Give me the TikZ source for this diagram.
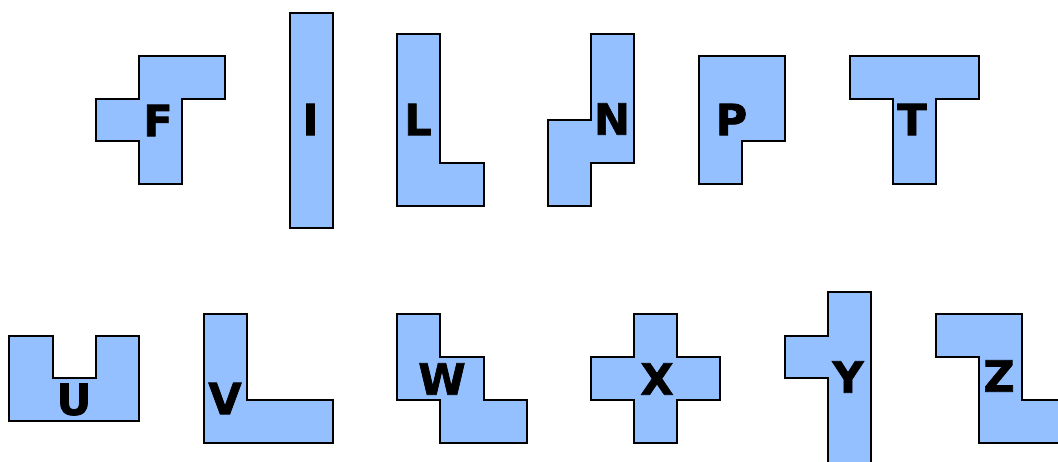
\documentclass[tikz,border=0pt]{standalone}
\usepackage{fontspec}
\newfontfamily\piecefont{DejaVu Sans Bold}[FakeBold=1.6]
\definecolor{piecefill}{RGB}{148,192,255}
\tikzset{
  piece/.style={fill=piecefill,draw=black,line width=2pt,line join=miter},
  lbl/.style={inner sep=0pt,font=\piecefont\fontsize{43}{43}\selectfont}
}
\begin{document}
\begin{tikzpicture}[x=1pt,y=-1pt]
\useasboundingbox (0,0) rectangle (1058,461);
\clip (0,0) rectangle (1058,461);
% F
\draw[piece] (139,56)--(225,56)--(225,99)--(182,99)--(182,184)--(139,184)--(139,141)--(96,141)--(96,99)--(139,99)--cycle;
% I
\draw[piece] (290,13) rectangle (333,228);
% L
\draw[piece] (397,34)--(440,34)--(440,163)--(484,163)--(484,206)--(397,206)--cycle;
% N
\draw[piece] (591,34)--(634,34)--(634,163)--(591,163)--(591,206)--(548,206)--(548,120)--(591,120)--cycle;
% P
\draw[piece] (699,56)--(785,56)--(785,141)--(742,141)--(742,184)--(699,184)--cycle;
% T
\draw[piece] (850,56)--(979,56)--(979,99)--(936,99)--(936,184)--(893,184)--(893,99)--(850,99)--cycle;
% U
\draw[piece] (9,336)--(53,336)--(53,378)--(96,378)--(96,336)--(139,336)--(139,421)--(9,421)--cycle;
% V
\draw[piece] (204,314)--(247,314)--(247,400)--(333,400)--(333,443)--(204,443)--cycle;
% W
\draw[piece] (397,314)--(440,314)--(440,357)--(484,357)--(484,400)--(527,400)--(527,443)--(440,443)--(440,400)--(397,400)--cycle;
% X
\draw[piece] (634,314)--(677,314)--(677,357)--(720,357)--(720,400)--(677,400)--(677,443)--(634,443)--(634,400)--(591,400)--(591,357)--(634,357)--cycle;
% Y
\draw[piece] (828,292)--(871,292)--(871,507)--(828,507)--(828,378)--(785,378)--(785,336)--(828,336)--cycle;
% Z
\draw[piece] (936,314)--(1022,314)--(1022,400)--(1108,400)--(1108,443)--(979,443)--(979,357)--(936,357)--cycle;
% labels
\node[lbl] (lF) at (158,120.5) {F};
\node[lbl] (lI) at (310.5,119.5) {I};
\node[lbl] (lL) at (418,119.5) {L};
\node[lbl] (lN) at (612,119) {N};
\node[lbl] (lP) at (731.5,119.5) {P};
\node[lbl] (lT) at (912,119.5) {T};
\node[lbl] (lU) at (74,399.5) {U};
\node[lbl] (lV) at (225,398.5) {V};
\node[lbl] (lW) at (442,379) {W};
\node[lbl] (lX) at (657,379) {X};
\node[lbl] (lY) at (848,377) {Y};
\node[lbl] (lZ) at (999,376) {Z};
\end{tikzpicture}
\end{document}
